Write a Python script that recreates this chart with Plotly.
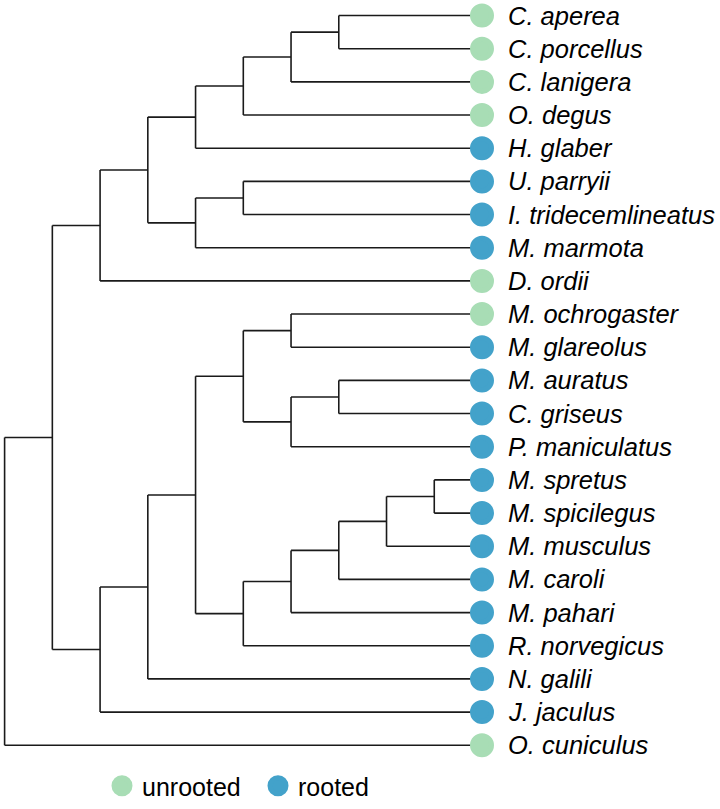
import plotly.graph_objects as go

# ---- data: tree topology (nested clades, leaves in top-to-bottom order) ----
caviomorph = ((("C. aperea", "C. porcellus"), "C. lanigera"), "O. degus")
hystricomorph = (caviomorph, "H. glaber")
squirrels = (("U. parryii", "I. tridecemlineatus"), "M. marmota")
upper_clade = ((hystricomorph, squirrels), "D. ordii")
voles = ("M. ochrogaster", "M. glareolus")
hamsters = (("M. auratus", "C. griseus"), "P. maniculatus")
mice = ((((("M. spretus", "M. spicilegus"), "M. musculus"), "M. caroli"), "M. pahari"), "R. norvegicus")
lower_clade = ((((voles, hamsters), mice), "N. galili"), "J. jaculus")
tree = ((upper_clade, lower_clade), "O. cuniculus")

unrooted_species = ["C. aperea", "C. porcellus", "C. lanigera", "O. degus",
                    "D. ordii", "M. ochrogaster", "O. cuniculus"]
status_labels = ["unrooted", "rooted"]
status_colors = ["#a8ddb5", "#43a2ca"]

# ---- cladogram layout (depth = x, tips aligned, node y = midpoint of children) ----
def max_depth(node, d=0):
    if isinstance(node, str):
        return d
    return max(max_depth(c, d + 1) for c in node)

TIP_X = max_depth(tree)
leaves = []
seg_x, seg_y = [], []

def layout(node, depth):
    if isinstance(node, str):
        y = len(leaves)
        leaves.append(node)
        return TIP_X, y
    kids = [layout(c, depth + 1) for c in node]
    ys = [k[1] for k in kids]
    y = (min(ys) + max(ys)) / 2
    seg_x.extend([depth, depth, None]); seg_y.extend([min(ys), max(ys), None])
    for kx, ky in kids:
        seg_x.extend([depth, kx, None]); seg_y.extend([ky, ky, None])
    return depth, y

layout(tree, 0)

fig = go.Figure()
fig.add_trace(go.Scatter(x=seg_x, y=seg_y, mode="lines",
                         line=dict(color="#1a1a1a", width=1.6),
                         hoverinfo="skip", showlegend=False))

for label, color in zip(status_labels, status_colors):
    names = [n for n in leaves if (n in unrooted_species) == (label == "unrooted")]
    fig.add_trace(go.Scatter(
        x=[TIP_X] * len(names), y=[leaves.index(n) for n in names],
        mode="markers", name=label, text=names, hoverinfo="text",
        marker=dict(size=19, color=color, line=dict(width=5, color=color)),
    ))

for i, n in enumerate(leaves):
    fig.add_annotation(x=TIP_X, y=i, text=n, showarrow=False,
                       xanchor="left", yanchor="middle", xshift=24,
                       font=dict(family="Liberation Sans, Arial", size=25.5,
                                 color="black", style="italic"))

# pixel calibration
px_per_x = 47.74
x0 = -4.6 / px_per_x
x1 = x0 + 720 / px_per_x
px_per_y = 33.5
y_top = -15.7 / px_per_y
y_bot = y_top + 809 / px_per_y

fig.update_layout(
    width=720, height=809,
    margin=dict(l=0, r=0, t=0, b=0),
    paper_bgcolor="white", plot_bgcolor="white",
    xaxis=dict(range=[x0, x1], visible=False, fixedrange=True),
    yaxis=dict(range=[y_bot, y_top], visible=False, fixedrange=True),
    legend=dict(orientation="h", x=102 / 720, xanchor="left",
                y=1 - 794 / 809, yanchor="middle",
                font=dict(family="Liberation Sans, Arial", size=25, color="black"),
                itemsizing="trace", entrywidth=111,
                bgcolor="rgba(0,0,0,0)", tracegroupgap=0),
    font=dict(family="Liberation Sans, Arial"),
)

fig.write_html("out.html", config={"displayModeBar": False, "responsive": False},
               post_script="document.body.style.margin='0';")
